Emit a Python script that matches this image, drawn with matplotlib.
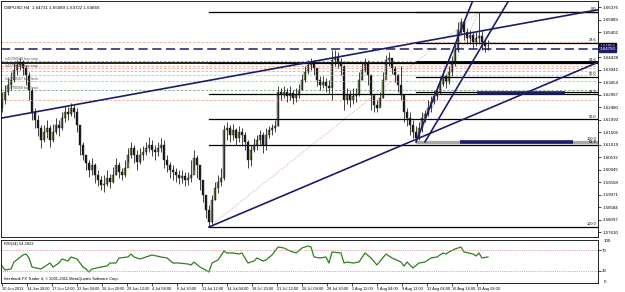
import matplotlib.pyplot as plt

plt.rcParams['font.family'] = ['Liberation Sans', 'DejaVu Sans']

# titulo do grafico (texto no canto superior esquerdo)
chart_title = "GBPUSD,H4  1.64731 1.65089 1.64722 1.64866"

# candles H4 (um candle por posicao)
first_open = 1.6245
closes = [1.6276, 1.6308, 1.6335, 1.6354, 1.6393, 1.6413, 1.6424, 1.6401, 1.6374, 1.6315,
          1.6230, 1.6198, 1.6167, 1.6120, 1.6152, 1.6167, 1.6120, 1.6152, 1.6179, 1.6167,
          1.6206, 1.6230, 1.6222, 1.6245, 1.6230, 1.6179, 1.6101, 1.6062, 1.6031, 1.6003,
          1.6023, 1.5984, 1.5964, 1.5945, 1.5949, 1.5972, 1.5957, 1.5984, 1.6023, 1.5996,
          1.5984, 1.6011, 1.6062, 1.6089, 1.6062, 1.6035, 1.6062, 1.6074, 1.6089, 1.6101,
          1.6081, 1.6074, 1.6089, 1.6101, 1.6042, 1.6023, 1.6003, 1.5996, 1.5984, 1.5972,
          1.5980, 1.5964, 1.5972, 1.5984, 1.6050, 1.6023, 1.5964, 1.5906, 1.5847, 1.5801,
          1.5886, 1.5933, 1.5957, 1.5972, 1.6159, 1.6167, 1.6140, 1.6159, 1.6128, 1.6152,
          1.6140, 1.6113, 1.6042, 1.6081, 1.6101, 1.6120, 1.6140, 1.6101, 1.6140, 1.6159,
          1.6167, 1.6175, 1.6308, 1.6296, 1.6308, 1.6292, 1.6304, 1.6284, 1.6296, 1.6315,
          1.6354, 1.6386, 1.6413, 1.6424, 1.6401, 1.6354, 1.6335, 1.6346, 1.6331, 1.6323,
          1.6432, 1.6440, 1.6424, 1.6409, 1.6276, 1.6296, 1.6276, 1.6292, 1.6300, 1.6354,
          1.6393, 1.6417, 1.6374, 1.6296, 1.6257, 1.6245, 1.6284, 1.6354, 1.6432, 1.6440,
          1.6401, 1.6374, 1.6335, 1.6296, 1.6230, 1.6206, 1.6179, 1.6152, 1.6128, 1.6167,
          1.6206, 1.6222, 1.6245, 1.6268, 1.6292, 1.6308, 1.6339, 1.6370, 1.6346, 1.6386,
          1.6424, 1.6471, 1.6549, 1.6580, 1.6541, 1.6518, 1.6530, 1.6503, 1.6518, 1.6526,
          1.6495, 1.6487, 1.64866]
highs = [1.6308, 1.6335, 1.6362, 1.6386, 1.6421, 1.6432, 1.6440, 1.6432, 1.6413, 1.6386,
         1.6323, 1.6245, 1.6218, 1.6179, 1.6179, 1.6198, 1.6179, 1.6183, 1.6206, 1.6198,
         1.6230, 1.6253, 1.6249, 1.6265, 1.6257, 1.6245, 1.6179, 1.6113, 1.6062, 1.6042,
         1.6050, 1.6031, 1.6003, 1.5980, 1.5984, 1.6003, 1.5988, 1.6015, 1.6050, 1.6035,
         1.6011, 1.6042, 1.6089, 1.6113, 1.6101, 1.6081, 1.6089, 1.6097, 1.6113, 1.6132,
         1.6120, 1.6101, 1.6113, 1.6128, 1.6120, 1.6062, 1.6035, 1.6023, 1.6011, 1.6003,
         1.6003, 1.5996, 1.5996, 1.6042, 1.6081, 1.6062, 1.6023, 1.5964, 1.5906, 1.5867,
         1.5906, 1.5957, 1.5984, 1.6011, 1.6179, 1.6191, 1.6179, 1.6183, 1.6167, 1.6175,
         1.6167, 1.6152, 1.6120, 1.6101, 1.6128, 1.6140, 1.6159, 1.6152, 1.6167, 1.6175,
         1.6183, 1.6198, 1.6331, 1.6323, 1.6331, 1.6323, 1.6331, 1.6315, 1.6323, 1.6339,
         1.6378, 1.6409, 1.6432, 1.6440, 1.6432, 1.6401, 1.6370, 1.6370, 1.6362, 1.6354,
         1.6471, 1.6471, 1.6463, 1.6440, 1.6413, 1.6323, 1.6315, 1.6323, 1.6323, 1.6386,
         1.6424, 1.6440, 1.6432, 1.6354, 1.6296, 1.6276, 1.6308, 1.6386, 1.6452, 1.6463,
         1.6432, 1.6409, 1.6378, 1.6409, 1.6300, 1.6245, 1.6230, 1.6198, 1.6175, 1.6191,
         1.6230, 1.6237, 1.6276, 1.6292, 1.6315, 1.6331, 1.6370, 1.6393, 1.6378, 1.6409,
         1.6448, 1.6495, 1.6580, 1.6596, 1.6588, 1.6557, 1.6549, 1.6541, 1.6541, 1.6620,
         1.6549, 1.6510, 1.65089]
lows = [1.6230, 1.6261, 1.6296, 1.6315, 1.6346, 1.6374, 1.6393, 1.6374, 1.6335, 1.6276,
        1.6198, 1.6167, 1.6136, 1.6089, 1.6113, 1.6128, 1.6093, 1.6113, 1.6144, 1.6136,
        1.6159, 1.6191, 1.6198, 1.6214, 1.6206, 1.6152, 1.6062, 1.6042, 1.6003, 1.5976,
        1.5984, 1.5953, 1.5941, 1.5925, 1.5918, 1.5941, 1.5933, 1.5953, 1.5984, 1.5972,
        1.5964, 1.5976, 1.6035, 1.6050, 1.6031, 1.6003, 1.6027, 1.6042, 1.6062, 1.6074,
        1.6058, 1.6042, 1.6058, 1.6074, 1.6011, 1.5996, 1.5972, 1.5964, 1.5957, 1.5949,
        1.5953, 1.5941, 1.5945, 1.5957, 1.6003, 1.5972, 1.5925, 1.5879, 1.5816, 1.5781,
        1.5793, 1.5886, 1.5914, 1.5941, 1.5964, 1.6120, 1.6113, 1.6120, 1.6101, 1.6113,
        1.6097, 1.6081, 1.6011, 1.6019, 1.6074, 1.6081, 1.6101, 1.6070, 1.6081, 1.6128,
        1.6140, 1.6152, 1.6175, 1.6276, 1.6284, 1.6268, 1.6276, 1.6261, 1.6268, 1.6284,
        1.6315, 1.6346, 1.6378, 1.6393, 1.6374, 1.6331, 1.6315, 1.6323, 1.6308, 1.6300,
        1.6276, 1.6409, 1.6401, 1.6374, 1.6237, 1.6261, 1.6249, 1.6261, 1.6268, 1.6292,
        1.6354, 1.6386, 1.6335, 1.6237, 1.6230, 1.6230, 1.6253, 1.6284, 1.6374, 1.6409,
        1.6378, 1.6346, 1.6308, 1.6276, 1.6191, 1.6175, 1.6140, 1.6128, 1.6113, 1.6120,
        1.6152, 1.6191, 1.6214, 1.6230, 1.6261, 1.6276, 1.6300, 1.6331, 1.6323, 1.6339,
        1.6370, 1.6409, 1.6463, 1.6534, 1.6510, 1.6495, 1.6495, 1.6479, 1.6487, 1.6495,
        1.6471, 1.6463, 1.64722]

# RSI(14): posicao (indice do candle) e valor
rsi_index = [0, 1, 3, 4, 7, 8, 9, 10, 13, 14, 16, 17, 19, 20, 22, 23, 25, 27, 28, 29,
             30, 33, 35, 36, 38, 39, 42, 43, 44, 46, 48, 50, 53, 55, 57, 59, 62, 63, 64, 66,
             69, 70, 72, 74, 75, 77, 79, 80, 82, 84, 85, 87, 88, 90, 92, 94, 96, 98, 100, 102,
             103, 104, 106, 108, 109, 110, 113, 114, 115, 117, 119, 121, 123, 125, 128, 130, 133, 134, 135, 137,
             139, 141, 143, 145, 147, 148, 149, 151, 153, 154, 157, 158, 159, 160, 162]
rsi_values = [39.5, 31.9, 33.8, 47.1, 60.5, 62.4, 54.8, 37.6, 33.8, 37.6, 45.2, 37.6, 45.2, 52.9, 49.0, 56.7, 52.9, 37.6, 33.8, 28.1,
              33.8, 37.6, 39.5, 45.2, 45.2, 54.8, 56.7, 62.4, 56.7, 52.9, 56.7, 60.5, 56.7, 54.8, 45.2, 45.2, 43.3, 41.4, 47.1, 37.6,
              28.1, 45.2, 51.0, 68.1, 64.3, 64.3, 62.4, 64.3, 45.2, 49.0, 54.8, 49.0, 51.0, 60.5, 75.7, 73.8, 68.1, 64.3, 73.8, 77.6,
              75.7, 56.7, 54.8, 56.7, 45.2, 66.2, 64.3, 45.2, 47.1, 45.2, 47.1, 64.3, 54.8, 41.4, 62.4, 54.8, 47.1, 39.5, 47.1, 35.7,
              45.2, 47.1, 54.8, 56.7, 64.3, 62.4, 66.2, 71.9, 75.7, 66.2, 62.4, 58.6, 64.3, 54.8, 56.7]
rsi_label = "RSI(14) 54.2823"

date_labels = ["10 Jun 2011", "14 Jun 20:00", "17 Jun 12:00", "22 Jun 04:00", "26 Jun 20:00",
               "29 Jun 12:00", "4 Jul 04:00", "6 Jul 20:00", "11 Jul 12:00", "14 Jul 04:00",
               "18 Jul 20:00", "21 Jul 12:00", "26 Jul 04:00", "28 Jul 20:00", "2 Aug 12:00",
               "5 Aug 04:00", "9 Aug 12:00", "12 Aug 04:00", "16 Aug 16:00", "19 Aug 08:00"]
price_labels = [1.57610, 1.58097, 1.58584, 1.59071, 1.59558, 1.60045, 1.60532, 1.61019,
                1.61506, 1.61993, 1.62480, 1.62967, 1.63454, 1.63941, 1.64428, 1.65402,
                1.65889, 1.66376]

# fibonacci: (indice minimo, preco minimo, indice maximo, preco maximo)
fib_levels = [0.0, 23.6, 38.2, 50.0, 61.8, 100.0]
fib_big = (69, 1.5781, 159, 1.6620)
fib_small = (138, 1.6113, 159, 1.6620)

# linhas de tendencia ((x1, p1), (x2, p2))
trend_lines = [((-1, 1.6204), (199, 1.6629)),
               ((69, 1.5781), (199, 1.6425)),
               ((138, 1.6113), (157, 1.6666)),
               ((141, 1.6113), (169, 1.6666))]

# linhas horizontais de ordens pendentes
order_prices = [1.6503, 1.6428, 1.6409, 1.6401, 1.6390, 1.6374, 1.6350, 1.6315, 1.6276]
order_colors = ['#e8a58f', '#78a878', '#e8a58f', '#e8a58f', '#e8a58f', '#e8b0b0', '#e8a58f', '#78a878', '#e8a58f']
order_texts = [(1.6430, "#42780568 buy stop", 'bottom'), (1.6418, "#42780569 buy stop", 'top'),
               (1.6352, "#42790567 buy limit", 'bottom'), (1.6317, "#42790568 buy limit", 'bottom')]
ask_line = 1.6475
black_line = 1.6421

navy = '#1c1c6b'
fig = plt.figure(figsize=(6.25, 2.92), dpi=100)
ax = fig.add_axes([1 / 625, 1 - 237 / 292, 597 / 625, 236 / 292])
axr = fig.add_axes([1 / 625, 1 - 283 / 292, 597 / 625, 43 / 292])

x_min, x_max = -0.33, 198.67
ax.set_xlim(x_min, x_max)
ax.set_ylim(1.57420, 1.66624)

# linhas horizontais tracejadas
for p, c in zip(order_prices, order_colors):
    ax.axhline(p, color=c, lw=0.6, dashes=(3, 2))
ax.axhline(ask_line, color=navy, lw=1.1, dashes=(6, 3))
ax.axhline(black_line, color='black', lw=1.2)
for p, t, va in order_texts:
    ax.text(1.0, p, t, fontsize=2.6, color='#555555', va=va)

# fibonacci
for fib in [fib_big, fib_small]:
    i0, lo, i1, hi = fib
    ax.plot([i0, i1], [lo, hi], color='#e09090', lw=0.6, ls=(0, (1, 1.5)))
    for lv in fib_levels:
        p = hi - (hi - lo) * lv / 100
        ax.plot([i0, x_max], [p, p], color='black', lw=0.9)
        if fib is fib_big or lv in (23.6, 50.0, 100.0):
            ax.text(x_max - 0.5, p + 0.0002, f"{lv:.1f}", fontsize=2.8, ha='right', va='bottom')

# segmentos grossos
ax.plot([fib_small[0], x_max], [fib_small[1], fib_small[1]], color='#a8a8a8', lw=2.4, solid_capstyle='butt')
ax.plot([152.7, 190.3], [fib_small[1], fib_small[1]], color=navy, lw=2.6, solid_capstyle='butt')
ax.plot([158.3, 187.7], [1.6304, 1.6304], color=navy, lw=2.6, solid_capstyle='butt')
ax.plot([fib_small[0], x_max], [1.6426, 1.6426], color='black', lw=2.0, solid_capstyle='butt')

# candles
opens = [first_open] + closes[:-1]
idx = list(range(len(closes)))
ax.vlines(idx, lows, highs, color='#222222', lw=0.6)
body_bottom = [min(o, c) for o, c in zip(opens, closes)]
body_height = [max(abs(c - o), 0.00008) for o, c in zip(opens, closes)]
body_color = ['#6f8f3f' if c >= o else '#111111' for o, c in zip(opens, closes)]
ax.bar(idx, body_height, bottom=body_bottom, width=0.62, color=body_color, edgecolor='#222222', linewidth=0.3)

# linhas de tendencia
for (xa, pa), (xb, pb) in trend_lines:
    ax.plot([xa, xb], [pa, pb], color=navy, lw=1.2)

ax.text(0.6, 1.6638, chart_title, fontsize=3.2, va='center')

# eixo de precos a direita
ax.yaxis.tick_right()
ax.set_yticks(price_labels)
ax.set_yticklabels([f"{p:.5f}" for p in price_labels], fontsize=3.2)
ax.tick_params(axis='y', length=2, width=0.5, pad=1)
ax.set_xticks([])
for s in ax.spines.values():
    s.set_linewidth(0.6)

# caixas de preco atual
ax.text(x_max + 0.5, closes[-1], f"{closes[-1]:.5f}", fontsize=3.2, color='white', va='center', ha='left',
        bbox=dict(boxstyle='square,pad=0.15', fc='black', ec='black'), clip_on=False)
ax.text(x_max + 0.5, ask_line, f"{ask_line:.5f}", fontsize=3.2, color='white', va='center', ha='left',
        bbox=dict(boxstyle='square,pad=0.15', fc=navy, ec=navy), clip_on=False)

# painel RSI
axr.set_xlim(x_min, x_max)
axr.set_ylim(7.14, 89.05)
axr.plot(rsi_index, rsi_values, color='#2f7f1f', lw=0.9)
axr.axhline(70, color='#d08a8a', lw=0.6, ls=(0, (1, 1.2)))
axr.axhline(30, color='#d08a8a', lw=0.6, ls=(0, (1, 1.2)))
axr.text(0.6, 86, rsi_label, fontsize=2.9, va='top')
axr.text(0.6, 10, "Interbank FX Trader 4, \u00a9 2001-2011 MetaQuotes Software Corp.", fontsize=2.9, va='bottom')
axr.yaxis.tick_right()
axr.set_yticks([70, 30])
axr.set_yticklabels(['70', '30'], fontsize=3.2)
axr.text(x_max + 2, 87, '100', fontsize=3.2, va='center', clip_on=False)
axr.text(x_max + 2, 9, '0', fontsize=3.2, va='center', clip_on=False)
axr.tick_params(axis='y', length=2, width=0.5, pad=1)
date_pos = [i * 25 / 3 for i in range(len(date_labels))]
axr.set_xticks(date_pos)
axr.set_xticklabels(date_labels, fontsize=2.8, ha='left')
axr.tick_params(axis='x', length=2, width=0.5, pad=1)
for s in axr.spines.values():
    s.set_linewidth(0.6)

plt.savefig('out.png', dpi=100)
